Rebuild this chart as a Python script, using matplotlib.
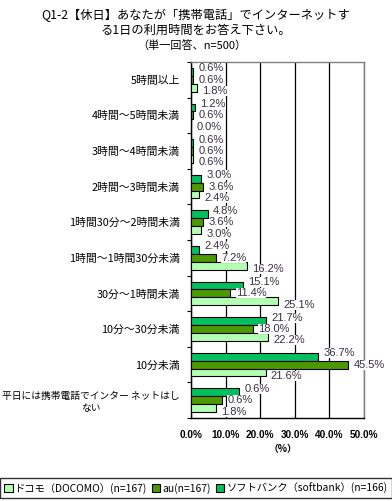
import matplotlib.pyplot as plt
from matplotlib.patches import Patch
from matplotlib.ticker import MultipleLocator

plt.rcParams['font.family'] = ['Noto Sans CJK JP', 'DejaVu Sans']

categories = ["5時間以上", "4時間～5時間未満", "3時間～4時間未満", "2時間～3時間未満",
              "1時間30分～2時間未満", "1時間～1時間30分未満", "30分～1時間未満",
              "10分～30分未満", "10分未満", "平日には携帯電話でインター ネットはし\nない"]

# bar lengths as drawn
softbank = [0.6, 1.2, 0.6, 3.0, 4.8, 2.4, 15.1, 21.7, 36.7, 13.9]
au = [0.6, 0.6, 0.6, 3.6, 3.6, 7.2, 11.4, 18.0, 45.5, 9.0]
docomo = [1.8, 0.0, 0.6, 2.4, 3.0, 16.2, 25.1, 22.2, 21.6, 7.2]

# data labels as printed on the chart (last group shows the first group's labels)
softbank_lbl = ["0.6%", "1.2%", "0.6%", "3.0%", "4.8%", "2.4%", "15.1%", "21.7%", "36.7%", "0.6%"]
au_lbl = ["0.6%", "0.6%", "0.6%", "3.6%", "3.6%", "7.2%", "11.4%", "18.0%", "45.5%", "0.6%"]
docomo_lbl = ["1.8%", "0.0%", "0.6%", "2.4%", "3.0%", "16.2%", "25.1%", "22.2%", "21.6%", "1.8%"]

series_names = ["ドコモ（DOCOMO）(n=167)", "au(n=167)", "ソフトバンク（softbank）(n=166)"]
c_docomo = "#b3ffb3"
c_au = "#4c9900"
c_sb = "#00c060"

fig = plt.figure(figsize=(3.92, 5.01), dpi=100)
ax = fig.add_axes([191 / 392, 1 - 418 / 501, 173 / 392, 356 / 501])

h = 0.22
ys = list(range(len(categories)))
ax.barh([y - h for y in ys], softbank, height=h, color=c_sb, edgecolor="black", lw=0.8, zorder=3)
ax.barh(ys, au, height=h, color=c_au, edgecolor="black", lw=0.8, zorder=3)
ax.barh([y + h for y in ys], docomo, height=h, color=c_docomo, edgecolor="black", lw=0.8, zorder=3)

lbl_font = dict(family="Liberation Sans", fontsize=8, color="#3a3040", va="center", ha="left",
                zorder=4, bbox=dict(facecolor="white", edgecolor="none", pad=0))
for y in ys:
    ax.text(softbank[y] + 1.5, y - h - 0.1, softbank_lbl[y], **lbl_font)
    ax.text(au[y] + 1.5, y, au_lbl[y], **lbl_font)
    ax.text(docomo[y] + 1.5, y + h + 0.1, docomo_lbl[y], **lbl_font)

ax.set_xlim(0, 50)
ax.set_ylim(len(categories) - 0.5, -0.5)
ax.set_xticks([0, 10, 20, 30, 40, 50])
ax.set_xticklabels(["0.0%", "10.0%", "20.0%", "30.0%", "40.0%", "50.0%"],
                   family="Liberation Sans", fontweight="bold", fontsize=7.2)
ax.tick_params(axis="x", length=0, pad=9)
ax.set_yticks(ys)
ax.set_yticklabels(categories, fontsize=7.8, multialignment="center")
ax.get_yticklabels()[-1].set_fontsize(7)
ax.yaxis.set_minor_locator(MultipleLocator(1, offset=0.5))
ax.tick_params(axis="y", which="major", length=0, pad=8)
ax.tick_params(axis="y", which="minor", length=3, width=0.8, color="black")
ax.grid(axis="x", color="black", lw=0.9, zorder=1)

ax.spines["left"].set_color("black")
ax.spines["bottom"].set_color("black")
ax.spines["top"].set_color("#808080")
ax.spines["right"].set_color("#808080")
for s in ax.spines.values():
    s.set_linewidth(1.0)

fig.text(283 / 392, 1 - 449 / 501, "（%）", ha="center", va="center", fontsize=7, fontweight="bold")

fig.text(0.5, 1 - 15 / 501, "Q1-2【休日】あなたが「携帯電話」でインターネットす", ha="center", va="center", fontsize=8.8)
fig.text(0.5, 1 - 30 / 501, "る1日の利用時間をお答え下さい。", ha="center", va="center", fontsize=8.8)
fig.text(0.49, 1 - 45 / 501, "（単一回答、n=500）", ha="center", va="center", fontsize=8)

handles = [Patch(facecolor=c, edgecolor="black", lw=0.8) for c in (c_docomo, c_au, c_sb)]
leg = fig.legend(handles, series_names, loc="center", bbox_to_anchor=(196 / 392, 1 - 488 / 501),
                 ncol=3, fontsize=7.4, frameon=True, fancybox=False, handlelength=0.8,
                 handleheight=0.8, handletextpad=0.2, columnspacing=0.5, borderpad=0.4,
                 borderaxespad=0)
leg.get_frame().set_edgecolor("black")
leg.get_frame().set_linewidth(1.0)

fig.savefig("out.png", dpi=100)
